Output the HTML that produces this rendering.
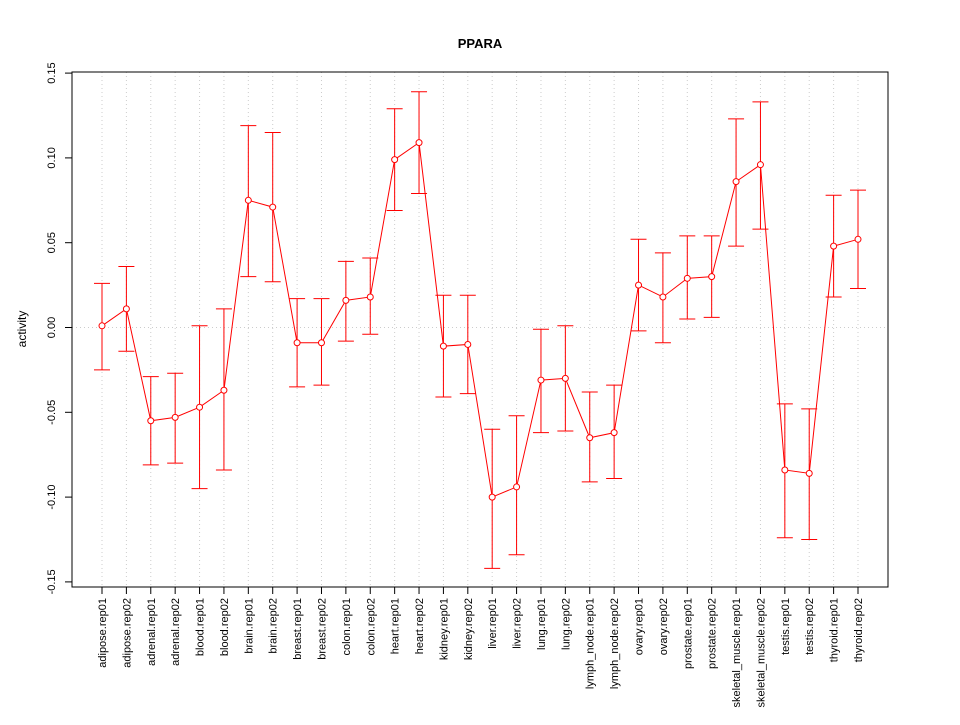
<!DOCTYPE html>
<html><head><meta charset="utf-8"><style>
body{margin:0;background:#fff;}
svg text{font-family:"Liberation Sans",Arial,sans-serif;}
</style></head><body>
<svg id="chart" width="960" height="720" xmlns="http://www.w3.org/2000/svg">
<text x="480" y="48" text-anchor="middle" font-size="13" font-weight="bold">PPARA</text>
<text transform="translate(26,329) rotate(-90)" text-anchor="middle" font-size="12">activity</text>
<g id="grid"></g><g id="axes"></g><g id="marks"></g>
<rect x="72" y="72" width="816" height="515" fill="none" stroke="#000"/>
</svg>
<script>
const categories=["adipose.rep01","adipose.rep02","adrenal.rep01","adrenal.rep02","blood.rep01","blood.rep02","brain.rep01","brain.rep02","breast.rep01","breast.rep02","colon.rep01","colon.rep02","heart.rep01","heart.rep02","kidney.rep01","kidney.rep02","liver.rep01","liver.rep02","lung.rep01","lung.rep02","lymph_node.rep01","lymph_node.rep02","ovary.rep01","ovary.rep02","prostate.rep01","prostate.rep02","skeletal_muscle.rep01","skeletal_muscle.rep02","testis.rep01","testis.rep02","thyroid.rep01","thyroid.rep02"];
const values=[0.001,0.011,-0.055,-0.053,-0.047,-0.037,0.075,0.071,-0.009,-0.009,0.016,0.018,0.099,0.109,-0.011,-0.010,-0.100,-0.094,-0.031,-0.030,-0.065,-0.062,0.025,0.018,0.029,0.030,0.086,0.096,-0.084,-0.086,0.048,0.052];
const upper=[0.026,0.036,-0.029,-0.027,0.001,0.011,0.119,0.115,0.017,0.017,0.039,0.041,0.129,0.139,0.019,0.019,-0.060,-0.052,-0.001,0.001,-0.038,-0.034,0.052,0.044,0.054,0.054,0.123,0.133,-0.045,-0.048,0.078,0.081];
const lower=[-0.025,-0.014,-0.081,-0.080,-0.095,-0.084,0.030,0.027,-0.035,-0.034,-0.008,-0.004,0.069,0.079,-0.041,-0.039,-0.142,-0.134,-0.062,-0.061,-0.091,-0.089,-0.002,-0.009,0.005,0.006,0.048,0.058,-0.124,-0.125,0.018,0.023];
const yTicks=[-0.15,-0.10,-0.05,0.00,0.05,0.10,0.15];
const yTickLabels=["-0.15","-0.10","-0.05","0.00","0.05","0.10","0.15"];
const NS="http://www.w3.org/2000/svg";
function X(i){return 102+i*(858-102)/(categories.length-1);}
function Y(v){return 327.5-v*(84.8/0.05);}
function mk(tag,attrs,parent){const e=document.createElementNS(NS,tag);for(const k in attrs)e.setAttribute(k,attrs[k]);parent.appendChild(e);return e;}
const grid=document.getElementById('grid'),axes=document.getElementById('axes'),marks=document.getElementById('marks');
categories.forEach((c,i)=>{
 const g=mk('line',{x1:X(i),x2:X(i),y1:72,y2:587,stroke:'#ccc','stroke-dasharray':'1,3'},grid);
 
 
 const t=mk('line',{x1:X(i),x2:X(i),y1:587,y2:594,stroke:'#000'},axes);
 
 
 const l=mk('text',{transform:`translate(${X(i)+4},598) rotate(-90)`,'text-anchor':'end','font-size':'11'},axes);
 l.textContent=c;
 
 
});
const h=mk('line',{x1:72,x2:888,y1:Y(0),y2:Y(0),stroke:'#ccc','stroke-dasharray':'1,3'},grid);


mk('line',{x1:72,x2:72,y1:Y(0.15),y2:Y(-0.15),stroke:'#000'},axes);
yTicks.forEach((v,i)=>{
 const t=mk('line',{x1:65,x2:72,y1:Y(v),y2:Y(v),stroke:'#000'},axes);
 
 
 const l=mk('text',{transform:`translate(55,${Y(v)}) rotate(-90)`,'text-anchor':'middle','font-size':'11'},axes);
 l.textContent=yTickLabels[i];
 
 
});
const pl=mk('polyline',{points:values.map((v,i)=>X(i)+','+Y(v)).join(' '),fill:'none',stroke:'#f00','stroke-width':1},marks);


values.forEach((v,i)=>{
 const x=X(i);
 const e=mk('path',{d:`M${x},${Y(upper[i])}V${Y(lower[i])}M${x-8},${Y(upper[i])}H${x+8}M${x-8},${Y(lower[i])}H${x+8}`,stroke:'#f00',fill:'none'},marks);
 
 
 const c=mk('circle',{cx:x,cy:Y(v),r:3,fill:'#fff',stroke:'#f00'},marks);
 
 
});
</script>
</body></html>
